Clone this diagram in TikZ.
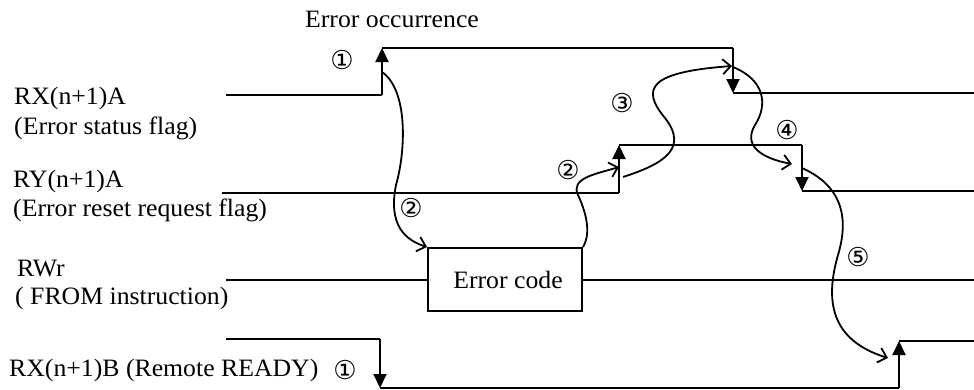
\documentclass[tikz,border=0pt]{standalone}
\usepackage{fontspec}
\setmainfont[FakeStretch=1.03]{Liberation Serif}
\newfontfamily\circfont{DejaVu Sans}
\usepackage{tikz}
\usetikzlibrary{arrows.meta}
\tikzset{
  sig/.style={line width=2pt, draw=black},
  stepedge/.style={line width=2pt, draw=black, -{Triangle[length=14pt,width=13pt]}},
  flow/.style={line width=1.8pt, draw=black, -{Straight Barb[length=8pt,width=15pt,line width=1.8pt]}},
  lab/.style={font=\fontsize{25}{30}\selectfont, anchor=base west, inner sep=0pt},
  num/.style={font=\circfont\fontsize{26}{30}\selectfont, inner sep=0pt},
  codebox/.style={draw, fill=white, line width=2pt, minimum width=154pt, minimum height=63pt,
    inner sep=0pt, font=\fontsize{25}{30}\selectfont}
}

\begin{document}
\begin{tikzpicture}[x=1pt, y=-1pt]
  \useasboundingbox (0,0) rectangle (974,389);

  % signal names
  \node[lab] (nrxa)  at (14,104) {RX(n+1)A};
  \node[lab] (nrxa2) at (14,134) {(Error status flag)};
  \node[lab] (nrya)  at (13,187) {RY(n+1)A};
  \node[lab] (nrya2) at (13,216) {(Error reset request flag)};
  \node[lab] (nrwr)  at (17,276) {RWr};
  \node[lab] (nrwr2) at (15,304) {( FROM instruction)};
  \node[lab] (nrxb)  at (9,376)  {RX(n+1)B (Remote READY)};
  \node[lab, anchor=base] (nerr) at (392,27) {Error occurrence};

  % RX(n+1)A
  \coordinate (a0) at (226,95);
  \coordinate (a1) at (382,95);
  \coordinate (a2) at (382,48);
  \coordinate (a3) at (733,48);
  \coordinate (a4) at (733,93);
  \coordinate (a5) at (974,93);

  % RY(n+1)A
  \coordinate (b0) at (222,193);
  \coordinate (b1) at (619,193);
  \coordinate (b2) at (619,145);
  \coordinate (b3) at (802,145);
  \coordinate (b4) at (802,191);
  \coordinate (b5) at (974,191);

  % RWr
  \coordinate (c0) at (226,279.5);
  \coordinate (c5) at (974,279.5);

  % RX(n+1)B
  \coordinate (d0) at (226,339);
  \coordinate (d1) at (380,339);
  \coordinate (d2) at (380,388);
  \coordinate (d3) at (899,388);
  \coordinate (d4) at (899,341);
  \coordinate (d5) at (974,341);

  % levels
  \draw[sig] (a0)--(a1) (a2)--(a3) (a4)--(a5);
  \draw[sig] (b0)--(b1) (b2)--(b3) (b4)--(b5);
  \draw[sig] (d0)--(d1) (d2)--(d3) (d4)--(d5);
  \node[codebox] (ecode) at (505,279.5) {\hspace{6pt}Error code};
  \draw[sig] (c0)--(ecode.west) (ecode.east)--(c5);

  % edges
  \foreach \P/\Q in {a1/a2,a3/a4,b1/b2,b3/b4,d1/d2,d3/d4}{
    \draw[stepedge] (\P)--(\Q);
  }

  % sequence arrows
  \coordinate (s1) at (382,72);
  \coordinate (t2) at (619,167);
  \coordinate (s3) at (623,177);
  \coordinate (t3) at (732,66);
  \coordinate (s4) at (733,67);
  \coordinate (t4) at (792,164);
  \coordinate (s5) at (802,168);
  \coordinate (t5) at (888,358);

  \draw[flow] (s1) .. controls (408,90) and (406,150) .. (396,185)
    .. controls (388,225) and (405,240) .. (ecode.north west);
  \draw[flow] (ecode.north east) .. controls (592,232) and (585,210) .. (578,195)
    .. controls (570,178) and (596,174) .. (t2);
  \draw[flow] (s3) .. controls (660,165) and (690,150) .. (665,118)
    .. controls (640,88) and (650,72) .. (t3);
  \draw[flow] (s4) .. controls (765,80) and (768,105) .. (755,125)
    .. controls (743,145) and (760,158) .. (t4);
  \draw[flow] (s5) .. controls (840,185) and (850,215) .. (838,255)
    .. controls (825,300) and (830,340) .. (t5);

  % step numbers
  \foreach \x/\y/\n/\name in {342/60/①/na, 411/208/②/nb, 568/170/②/nc, 622/103/③/nd,
      787/130/④/ne, 858/257/⑤/nf, 345/370/①/ng}{
    \node[num] (\name) at (\x,\y) {\n};
  }
\end{tikzpicture}
\end{document}
